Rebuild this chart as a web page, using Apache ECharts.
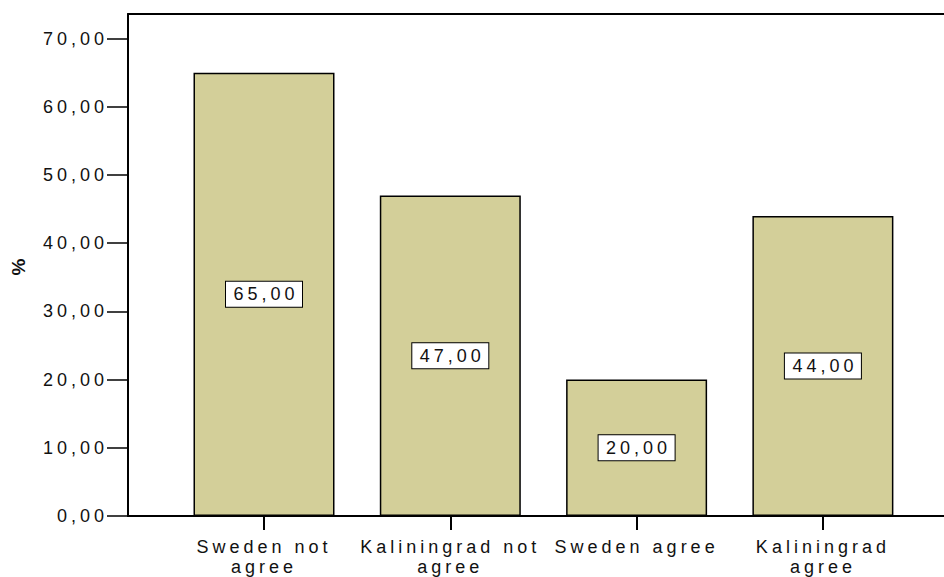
<!DOCTYPE html>
<html>
<head>
<meta charset="utf-8">
<script src="https://cdn.jsdelivr.net/npm/echarts@6/dist/echarts.min.js"></script>
<style>
  html, body { margin: 0; padding: 0; background: #fff; }
  #chart { width: 944px; height: 577px; }
  #chart text { letter-spacing: 4px; }
</style>
</head>
<body>
<div id="chart"></div>
<script>
const categories = ["Sweden not agree", "Kaliningrad not agree", "Sweden agree", "Kaliningrad agree"];
const tickLabels = ["Sweden not\nagree", "Kaliningrad not\nagree", "Sweden agree", "Kaliningrad\nagree"];
const values = [65, 47, 20, 44];
const yTicks = [0, 10, 20, 30, 40, 50, 60, 70];
const yTitle = "%";

const fmt = v => v.toFixed(2).replace('.', ',');
const font = "'Liberation Sans', Arial, sans-serif";
const xMin = -0.73, xMax = 3.65;

const chart = echarts.init(document.getElementById('chart'), null, { renderer: 'svg' });
chart.setOption({
  animation: false,
  backgroundColor: '#fff',
  grid: { left: 128, right: 0, top: 14, bottom: 58, show: false },
  xAxis: [{
    type: 'value',
    min: xMin, max: xMax,
    axisLine: { show: true, onZero: false, lineStyle: { color: '#000', width: 2 } },
    axisTick: { show: true, length: 14, customValues: [0, 1, 2, 3], lineStyle: { color: '#000', width: 2 } },
    splitLine: { show: false },
    axisLabel: {
      customValues: [0, 1, 2, 3],
      formatter: v => tickLabels[Math.round(v)],
      color: '#111', fontFamily: font, fontSize: 18, lineHeight: 20, margin: 21
    }
  }, {
    type: 'value',
    position: 'top',
    min: xMin, max: xMax,
    axisLine: { show: true, onZero: false, lineStyle: { color: '#000', width: 2 } },
    axisTick: { show: false },
    axisLabel: { show: false },
    splitLine: { show: false }
  }],
  yAxis: {
    type: 'value',
    min: 0, max: 73.6,
    name: yTitle,
    nameLocation: 'middle',
    nameGap: 100,
    nameTextStyle: { fontFamily: font, fontSize: 19, fontWeight: 'bold', color: '#111' },
    axisLine: { show: true, onZero: false, lineStyle: { color: '#000', width: 2 } },
    axisTick: { show: true, length: 21, customValues: yTicks, lineStyle: { color: '#000', width: 1.5 } },
    splitLine: { show: false },
    axisLabel: {
      customValues: yTicks,
      formatter: v => fmt(v),
      color: '#111', fontFamily: font, fontSize: 18, margin: 20
    }
  },
  series: [{
    type: 'bar',
    name: '%',
    xAxisIndex: 0,
    data: values.map((v, i) => [i, v]),
    barWidth: 141,
    itemStyle: { color: '#d3cf99', borderColor: '#000', borderWidth: 1.5 },
    label: {
      show: true,
      position: 'inside',
      formatter: p => fmt(p.value[1]),
      color: '#111', fontFamily: font, fontSize: 18,
      backgroundColor: '#fff', borderColor: '#000', borderWidth: 1,
      padding: [4, 6, 3, 10], width: 60, height: 18, lineHeight: 18, align: 'center'
    }
  }]
});
</script>
</body>
</html>
